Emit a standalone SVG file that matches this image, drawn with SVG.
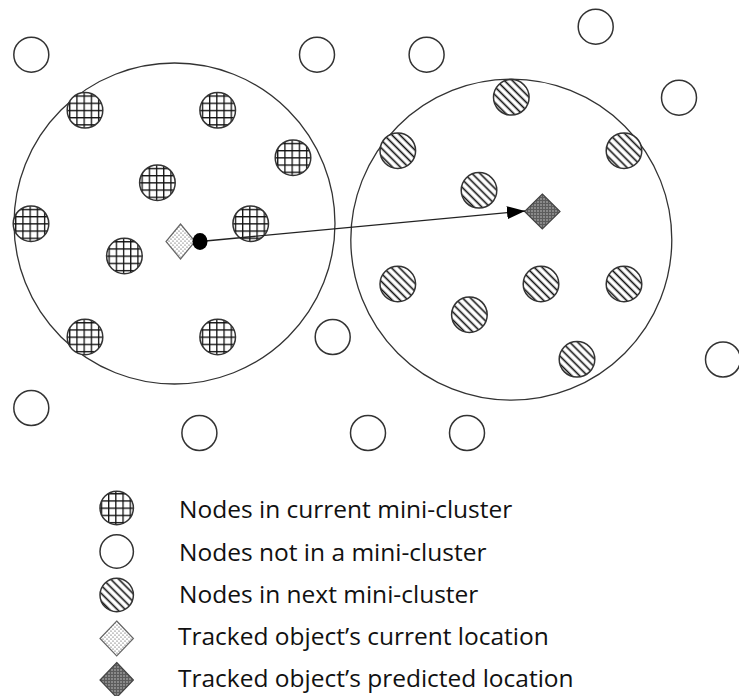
<svg xmlns="http://www.w3.org/2000/svg" width="739" height="696" viewBox="0 0 739 696">
  <style>
    .zone { fill: none; stroke: #333; stroke-width: 1.3; }
    .node { stroke: #333; stroke-width: 1.5; }
    .free { fill: #fff; }
    .cur { fill: url(#grid); }
    .next { fill: url(#hatch); }
    .loc-now { fill: url(#dots); stroke: #666; stroke-width: 1.2; }
    .loc-pred { fill: url(#darkdots); stroke: #444; stroke-width: 1.2; }
    .link { stroke: #222; stroke-width: 1.3; fill: none; }
    .label { font-family: "Open Sans", "Noto Sans", "Liberation Sans", sans-serif; font-size: 24.5px; fill: #111; }
  </style>
  <defs>
    <pattern id="grid" patternUnits="userSpaceOnUse" x="-1.5" y="-0.5" width="7.2" height="7.2">
      <rect width="7.2" height="7.2" fill="#fff"/>
      <path d="M0.6 0 V7.2 M0 0.6 H7.2" stroke="#111" stroke-width="1.4"/>
    </pattern>
    <pattern id="hatch" patternUnits="userSpaceOnUse" width="5.6" height="5.6" patternTransform="rotate(-45)">
      <rect width="5.6" height="5.6" fill="#fff"/>
      <path d="M1.4 0 V5.6" stroke="#111" stroke-width="1.6"/>
    </pattern>
    <pattern id="dots" patternUnits="userSpaceOnUse" width="4" height="4">
      <rect width="4" height="4" fill="#fff"/>
      <circle cx="1" cy="1" r="0.6" fill="#333"/>
      <circle cx="3" cy="3" r="0.6" fill="#333"/>
    </pattern>
    <pattern id="darkdots" patternUnits="userSpaceOnUse" width="3" height="3">
      <rect width="3" height="3" fill="#5c5c5c"/>
      <circle cx="1" cy="1" r="0.7" fill="#d8d8d8"/>
    </pattern>
    <marker id="head" markerUnits="userSpaceOnUse" markerWidth="19" markerHeight="14" refX="18" refY="6.5" orient="auto">
      <path d="M0 0 L18 6.5 L0 13 Z" fill="#000"/>
    </marker>
  </defs>

  <!-- cluster boundaries -->
  <g id="cluster-current">
    <circle class="zone" cx="174.5" cy="223.5" r="160.5"/>
  </g>
  <g id="cluster-next">
    <circle class="zone" cx="511.3" cy="239.7" r="160.5"/>
  </g>

  <!-- nodes not in a mini-cluster -->
  <g id="free-nodes">
    <circle class="node free" cx="31.3" cy="54.7" r="17.5"/>
    <circle class="node free" cx="317" cy="54.7" r="17.5"/>
    <circle class="node free" cx="426.6" cy="54.7" r="17.5"/>
    <circle class="node free" cx="595.7" cy="26.7" r="17.5"/>
    <circle class="node free" cx="679" cy="97.7" r="17.5"/>
    <circle class="node free" cx="332.7" cy="337" r="17.5"/>
    <circle class="node free" cx="723" cy="359.5" r="17.5"/>
    <circle class="node free" cx="31.3" cy="408" r="17.5"/>
    <circle class="node free" cx="199.4" cy="433" r="17.5"/>
    <circle class="node free" cx="368" cy="433" r="17.5"/>
    <circle class="node free" cx="467" cy="433" r="17.5"/>
  </g>

  <!-- nodes in the current mini-cluster -->
  <g id="current-nodes">
    <g transform="translate(85,110.3)"><circle class="node cur" r="17.8"/></g>
    <g transform="translate(217.7,110.3)"><circle class="node cur" r="17.8"/></g>
    <g transform="translate(293,157.7)"><circle class="node cur" r="17.8"/></g>
    <g transform="translate(157.4,182.7)"><circle class="node cur" r="17.8"/></g>
    <g transform="translate(31,223.7)"><circle class="node cur" r="17.8"/></g>
    <g transform="translate(250.7,223.7)"><circle class="node cur" r="17.8"/></g>
    <g transform="translate(124.4,256)"><circle class="node cur" r="17.8"/></g>
    <g transform="translate(85,337)"><circle class="node cur" r="17.8"/></g>
    <g transform="translate(217.7,337)"><circle class="node cur" r="17.8"/></g>
  </g>

  <!-- nodes in the next mini-cluster -->
  <g id="next-nodes">
    <g transform="translate(511.3,97.3)"><circle class="node next" r="17.8"/></g>
    <g transform="translate(397.8,150.7)"><circle class="node next" r="17.8"/></g>
    <g transform="translate(624,150.7)"><circle class="node next" r="17.8"/></g>
    <g transform="translate(479,190.3)"><circle class="node next" r="17.8"/></g>
    <g transform="translate(397.8,284)"><circle class="node next" r="17.8"/></g>
    <g transform="translate(541,284)"><circle class="node next" r="17.8"/></g>
    <g transform="translate(624,284)"><circle class="node next" r="17.8"/></g>
    <g transform="translate(469.4,314.7)"><circle class="node next" r="17.8"/></g>
    <g transform="translate(577,359.3)"><circle class="node next" r="17.8"/></g>
  </g>

  <!-- tracked object: current and predicted location -->
  <g id="object-current">
    <path class="loc-now" d="M180.5 224 L195 241.5 L180.5 259 L166 241.5 Z"/>
  </g>
  <g id="object-predicted">
    <path class="loc-pred" d="M542.3 194 L560 211.5 L542.3 229 L524.6 211.5 Z"/>
  </g>

  <!-- motion vector -->
  <g id="connectors">
    <line class="link" x1="200" y1="241.5" x2="525" y2="211" marker-end="url(#head)"/>
    <ellipse cx="200" cy="241.5" rx="7.5" ry="8.5" fill="#000"/>
  </g>

  <!-- legend -->
  <g id="legend">
    <g id="legend-current">
      <g transform="translate(116.7,508)"><circle class="node cur" r="16.7"/></g>
      <text class="label" x="179" y="518">Nodes in current mini-cluster</text>
    </g>
    <g id="legend-free">
      <circle class="node free" cx="116.7" cy="551.5" r="16.7"/>
      <text class="label" x="179" y="560.5">Nodes not in a mini-cluster</text>
    </g>
    <g id="legend-next">
      <g transform="translate(116.7,595)"><circle class="node next" r="16.7"/></g>
      <text class="label" x="179" y="602.5">Nodes in next mini-cluster</text>
    </g>
    <g id="legend-now">
      <path class="loc-now" d="M116.7 621 L133.4 638.5 L116.7 656 L100 638.5 Z"/>
      <text class="label" x="178" y="644.5">Tracked object’s current location</text>
    </g>
    <g id="legend-pred">
      <path class="loc-pred" d="M116.7 662.5 L133.4 680 L116.7 697.5 L100 680 Z"/>
      <text class="label" x="178" y="686.5">Tracked object’s predicted location</text>
    </g>
  </g>
</svg>
